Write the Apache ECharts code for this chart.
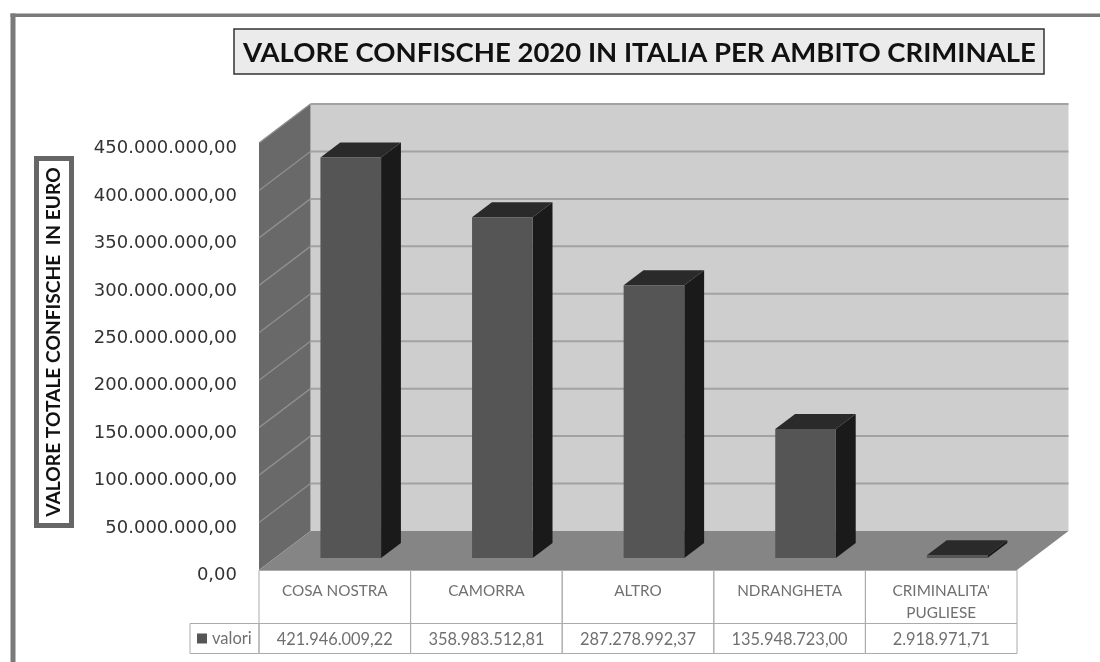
<!DOCTYPE html>
<html>
<head>
<meta charset="utf-8">
<script src="https://cdn.jsdelivr.net/npm/echarts@6/dist/echarts.min.js"></script>
<style>
html,body{margin:0;padding:0;background:#fff}
#chart{width:1100px;height:662px}
</style>
</head>
<body>
<div id="chart"></div>
<script>
// Dati: confische 2020 per ambito criminale
const categories = ['COSA NOSTRA', 'CAMORRA', 'ALTRO', 'NDRANGHETA', "CRIMINALITA'\nPUGLIESE"];
const valori = [421946009.22, 358983512.81, 287278992.37, 135948723.00, 2918971.71];
const yTicks = [0, 50000000, 100000000, 150000000, 200000000, 250000000, 300000000, 350000000, 400000000, 450000000];

// Prospettiva della scena: spostamento dal piano frontale al fondo
const DEPTH_X = 51.5;
const DEPTH_Y = -39;
const BAR_START = 0.31;   // frazione di profondita' dove inizia la barra
const BAR_DEPTH = 0.385;  // profondita' della barra
const BAR_WIDTH = 0.4;    // frazione della categoria
const ROW_CAT = 53;
const ROW_VAL = 30;

const fmt = v => {
  const [i, d] = v.toFixed(2).split('.');
  return i.replace(/\B(?=(\d{3})+(?!\d))/g, '.') + ',' + d;
};
const poly = (pts, fill, z2) => ({ type: 'polygon', shape: { points: pts }, style: { fill }, z2: z2 || 0 });

const chart = echarts.init(document.getElementById('chart'), null, { renderer: 'canvas' });

chart.setOption({
  animation: false,
  backgroundColor: '#fff',
  title: {
    text: 'VALORE CONFISCHE 2020 IN ITALIA PER AMBITO CRIMINALE',
    left: 234, top: 29,
    padding: [10, 8, 7, 9],
    backgroundColor: '#ebebeb',
    borderColor: '#333',
    borderWidth: 1.5,
    textStyle: { fontFamily: 'Lato', fontWeight: 'bold', fontSize: 27.5, color: '#111', lineHeight: 28 }
  },
  legend: {
    data: ['valori'], left: 195, top: 628, padding: 2,
    icon: 'rect', itemWidth: 10, itemHeight: 10, itemGap: 0, selectedMode: false,
    textStyle: { fontFamily: 'Lato', fontSize: 16.5, color: '#707070', padding: [0, 0, 0, 0] }
  },
  grid: { left: 259, top: 143, width: 758, height: 427, containLabel: false },
  xAxis: {
    type: 'category',
    data: categories,
    axisLine: { show: false },
    axisTick: { show: false },
    axisLabel: {
      interval: 0, margin: 10, lineHeight: 22, verticalAlign: 'top',
      fontFamily: 'Lato', fontSize: 15.3, color: '#707070'
    }
  },
  yAxis: {
    type: 'value', min: 0, max: 450000000, interval: 50000000,
    axisLine: { show: false },
    axisTick: { show: false },
    splitLine: { show: false },
    axisLabel: {
      margin: 22, padding: [0, 0, 0, 0], verticalAlign: 'top', lineHeight: 11,
      fontFamily: 'DejaVu Sans', fontSize: 18, color: '#333',
      formatter: v => fmt(v)
    }
  },
  series: [
    // Pareti e pavimento
    {
      type: 'custom', name: 'scena', silent: true, z: 1, clip: false,
      data: [0],
      renderItem: (p, api) => {
        const [x0, y0] = api.coord([0, 0]);
        const band = api.size([1, 0])[0];
        const [, yT] = api.coord([0, yTicks[yTicks.length - 1]]);
        const xL = x0 - band / 2, xR = xL + band * categories.length;
        return {
          type: 'group',
          children: [
            poly([[xL + DEPTH_X, yT + DEPTH_Y], [xR + DEPTH_X, yT + DEPTH_Y], [xR + DEPTH_X, y0 + DEPTH_Y], [xL + DEPTH_X, y0 + DEPTH_Y]], '#cecece'),
            poly([[xL, yT], [xL + DEPTH_X, yT + DEPTH_Y], [xL + DEPTH_X, y0 + DEPTH_Y], [xL, y0]], '#696969'),
            poly([[xL, y0], [xR, y0], [xR + DEPTH_X, y0 + DEPTH_Y], [xL + DEPTH_X, y0 + DEPTH_Y]], '#858585')
          ]
        };
      }
    },
    // Griglia su parete di fondo e parete sinistra
    {
      type: 'custom', name: 'griglia', silent: true, z: 2, clip: false,
      data: yTicks.slice(1),
      renderItem: (p, api) => {
        const [x0, y] = api.coord([0, api.value(0)]);
        const band = api.size([1, 0])[0];
        const xL = x0 - band / 2, xR = xL + band * categories.length;
        return {
          type: 'group',
          children: [
            { type: 'line', shape: { x1: xL, y1: y, x2: xL + DEPTH_X, y2: y + DEPTH_Y }, style: { stroke: '#8e8e8e', lineWidth: 1.4 } },
            { type: 'line', shape: { x1: xL + DEPTH_X, y1: y + DEPTH_Y, x2: xR + DEPTH_X, y2: y + DEPTH_Y }, style: { stroke: '#a2a2a2', lineWidth: 2 } }
          ]
        };
      },
      encode: { y: 0 }
    },
    // Colonne 3D
    {
      type: 'custom', name: 'valori', silent: true, z: 3, clip: false,
      itemStyle: { color: '#555' },
      data: valori.map((v, i) => [i, v]),
      encode: { x: 0, y: 1 },
      renderItem: (p, api) => {
        const i = api.value(0), v = api.value(1);
        const [cx, yTop] = api.coord([i, v]);
        const [, yBase] = api.coord([i, 0]);
        const w = api.size([1, 0])[0] * BAR_WIDTH;
        const sx = DEPTH_X * BAR_START, sy = DEPTH_Y * BAR_START;
        const dx = DEPTH_X * BAR_DEPTH, dy = DEPTH_Y * BAR_DEPTH;
        const l = cx - w / 2 + sx, r = cx + w / 2 + sx, t = yTop + sy, b = yBase + sy;
        return {
          type: 'group',
          children: [
            poly([[r, t], [r + dx, t + dy], [r + dx, b + dy], [r, b]], '#1a1a1a'),
            poly([[l, t], [l + dx, t + dy], [r + dx, t + dy], [r, t]], '#2a2a2a'),
            poly([[l, t], [r, t], [r, b], [l, b]], '#555555')
          ]
        };
      }
    },
    // Tabella dati sotto il grafico
    {
      type: 'custom', name: 'tabella', silent: true, z: 4, clip: false,
      data: valori.map((v, i) => [i, v]),
      encode: { x: 0 },
      renderItem: (p, api) => {
        const i = api.value(0);
        const [cx, y0] = api.coord([i, 0]);
        const band = api.size([1, 0])[0];
        const x = cx - band / 2;
        const stroke = { stroke: '#ababab', fill: 'none', lineWidth: 1 };
        const kids = [
          { type: 'rect', shape: { x, y: y0 + 0.5, width: band, height: ROW_CAT }, style: stroke },
          { type: 'rect', shape: { x, y: y0 + 0.5 + ROW_CAT, width: band, height: ROW_VAL }, style: stroke },
          { type: 'text', x: cx, y: y0 + ROW_CAT + ROW_VAL / 2 + 1.5,
            style: { text: fmt(api.value(1)), fill: '#707070', font: '16.4px Lato', align: 'center', verticalAlign: 'middle' } }
        ];
        if (i === 0) {
          kids.push({ type: 'rect', shape: { x: x - 69, y: y0 + 0.5 + ROW_CAT, width: 69, height: ROW_VAL }, style: stroke });
        }
        return { type: 'group', children: kids };
      }
    }
  ],
  graphic: [
    // Cornice esterna
    { type: 'rect', shape: { x: 10.5, y: 13.5, width: 5, height: 700 }, style: { fill: '#7a7a7a' }, silent: true },
    { type: 'rect', shape: { x: 10.5, y: 13.5, width: 1150, height: 3.5 }, style: { fill: '#7a7a7a' }, silent: true },
    // Titolo dell'asse verticale
    { type: 'rect', shape: { x: 36.5, y: 158.5, width: 35, height: 367 },
      style: { fill: '#fff', stroke: '#666', lineWidth: 5 }, silent: true },
    { type: 'text', x: 54, y: 342, rotation: Math.PI / 2, silent: true,
      style: { text: 'VALORE TOTALE CONFISCHE  IN EURO', font: 'bold 19.2px Lato', fill: '#111', align: 'center', verticalAlign: 'middle' } }
  ]
});
</script>
</body>
</html>
